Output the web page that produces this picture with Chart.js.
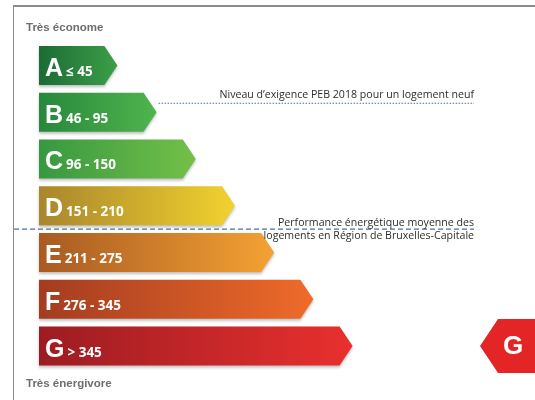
<!DOCTYPE html>
<html>
<head>
<meta charset="utf-8">
<script src="https://cdn.jsdelivr.net/npm/chart.js@4"></script>
<style>
  html, body { margin: 0; padding: 0; background: #fff; }
  #wrap { width: 535px; height: 400px; }
</style>
</head>
<body>
<div id="wrap"><canvas id="labelChart" width="535" height="400"></canvas></div>
<script>
// energy classes, top (best) to bottom (worst)
const classes = ['A', 'B', 'C', 'D', 'E', 'F', 'G'];
const ranges = ['≤ 45', '46 - 95', '96 - 150', '151 - 210', '211 - 275', '276 - 345', '> 345'];
const classLength = [2, 3, 4, 5, 6, 7, 8];
const colorsDark = ['#1c6b34', '#28873c', '#379841', '#a8862c', '#a85a22', '#a33c20', '#9c1c22'];
const colorsLight = ['#3c9f48', '#4fb54c', '#74c049', '#f2d22f', '#f4a233', '#ef6b29', '#e9302e'];
const currentClass = 'G';
const topLabel = 'Très économe';
const bottomLabel = 'Très énergivore';
const pebNote = 'Niveau d’exigence PEB 2018 pour un logement neuf';
const avgNote = ['Performance énergétique moyenne des', 'logements en Région de Bruxelles-Capitale'];

// draws the arrow shaped bars + notes on top of the (invisible) bars
const labelPlugin = {
    id: 'energyLabel',
    afterDatasetsDraw(chart) {
        const ctx = chart.ctx;
        const yScale = chart.scales.y;
        const bars = chart.getDatasetMeta(0).data;
        const tip = 13;

        ctx.save();

        // frame
        ctx.strokeStyle = '#8c8c8c';
        ctx.lineWidth = 1;
        ctx.beginPath();
        ctx.moveTo(13.5, 400);
        ctx.lineTo(13.5, 5.5);
        ctx.stroke();
        ctx.lineWidth = 2;
        ctx.beginPath();
        ctx.moveTo(13, 6);
        ctx.lineTo(535, 6);
        ctx.stroke();

        bars.forEach((el, i) => {
            const top = el.y - el.height / 2;
            const bottom = el.y + el.height / 2;
            const left = el.base;
            const right = el.x;

            const grad = ctx.createLinearGradient(left, 0, right, 0);
            grad.addColorStop(0, colorsDark[i]);
            grad.addColorStop(1, colorsLight[i]);

            ctx.save();
            ctx.shadowColor = 'rgba(0,0,0,0.25)';
            ctx.shadowOffsetY = 2;
            ctx.shadowBlur = 3;
            ctx.fillStyle = grad;
            ctx.beginPath();
            ctx.moveTo(left, top);
            ctx.lineTo(right - tip, top);
            ctx.lineTo(right, el.y);
            ctx.lineTo(right - tip, bottom);
            ctx.lineTo(left, bottom);
            ctx.closePath();
            ctx.fill();
            ctx.restore();

            // class letter + range
            ctx.fillStyle = '#ffffff';
            ctx.textAlign = 'left';
            ctx.textBaseline = 'alphabetic';
            ctx.font = 'bold 25px "Liberation Sans"';
            ctx.fillText(classes[i], left + 6, el.y + 10.5);
            const w = ctx.measureText(classes[i]).width;
            ctx.font = 'bold 13.5px "Open Sans"';
            ctx.fillText(ranges[i], left + 9 + w, el.y + 10.5);
        });

        // top / bottom captions
        ctx.fillStyle = '#6e6e6e';
        ctx.font = 'bold 11.5px "Liberation Sans"';
        ctx.textAlign = 'left';
        ctx.fillText(topLabel, 26, 31);
        ctx.fillText(bottomLabel, 26, 387);

        // PEB 2018 requirement line (dotted, from B tip)
        const noteRight = 474;
        const yB = yScale.getPixelForValue(1) - 9;
        ctx.strokeStyle = '#4d6b8e';
        ctx.lineWidth = 1.2;
        ctx.setLineDash([1.5, 1.5]);
        ctx.beginPath();
        ctx.moveTo(bars[1].x + 2, yB);
        ctx.lineTo(noteRight, yB);
        ctx.stroke();

        ctx.fillStyle = '#2e2e2e';
        ctx.font = '10.6px "Open Sans"';
        ctx.textAlign = 'right';
        ctx.fillText(pebNote, noteRight, yB - 5);

        // average Brussels dwelling line (dashed, between D and E)
        const yAvg = (yScale.getPixelForValue(3) + yScale.getPixelForValue(4)) / 2;
        ctx.setLineDash([5, 3]);
        ctx.strokeStyle = '#4f6f9c';
        ctx.beginPath();
        ctx.moveTo(14, yAvg);
        ctx.lineTo(noteRight, yAvg);
        ctx.stroke();
        ctx.setLineDash([]);
        ctx.fillText(avgNote[0], noteRight, yAvg - 3);
        ctx.fillText(avgNote[1], noteRight, yAvg + 10);

        // current class marker on the right
        const gi = classes.indexOf(currentClass);
        const yG = yScale.getPixelForValue(gi);
        const half = 27;
        ctx.fillStyle = '#e32526';
        ctx.beginPath();
        ctx.moveTo(480, yG);
        ctx.lineTo(498, yG - half);
        ctx.lineTo(535, yG - half);
        ctx.lineTo(535, yG + half);
        ctx.lineTo(498, yG + half);
        ctx.closePath();
        ctx.fill();
        ctx.fillStyle = '#ffffff';
        ctx.font = 'bold 26px "Liberation Sans"';
        ctx.textAlign = 'center';
        ctx.textBaseline = 'middle';
        ctx.fillText(currentClass, 513, yG + 1);

        ctx.restore();
    }
};

const ctx = document.getElementById('labelChart').getContext('2d');
new Chart(ctx, {
    type: 'bar',
    data: {
        labels: classes,
        datasets: [{
            data: classLength,
            backgroundColor: 'rgba(0,0,0,0)',
            barPercentage: 0.834,
            categoryPercentage: 1
        }]
    },
    options: {
        indexAxis: 'y',
        responsive: false,
        animation: false,
        layout: { padding: { left: 39, right: 25.6, top: 42.1, bottom: 30.6 } },
        scales: {
            x: { display: false, min: 0, max: 12 },
            y: { display: false }
        },
        plugins: {
            legend: { display: false },
            tooltip: { enabled: false }
        }
    },
    plugins: [labelPlugin]
});
</script>
</body>
</html>
